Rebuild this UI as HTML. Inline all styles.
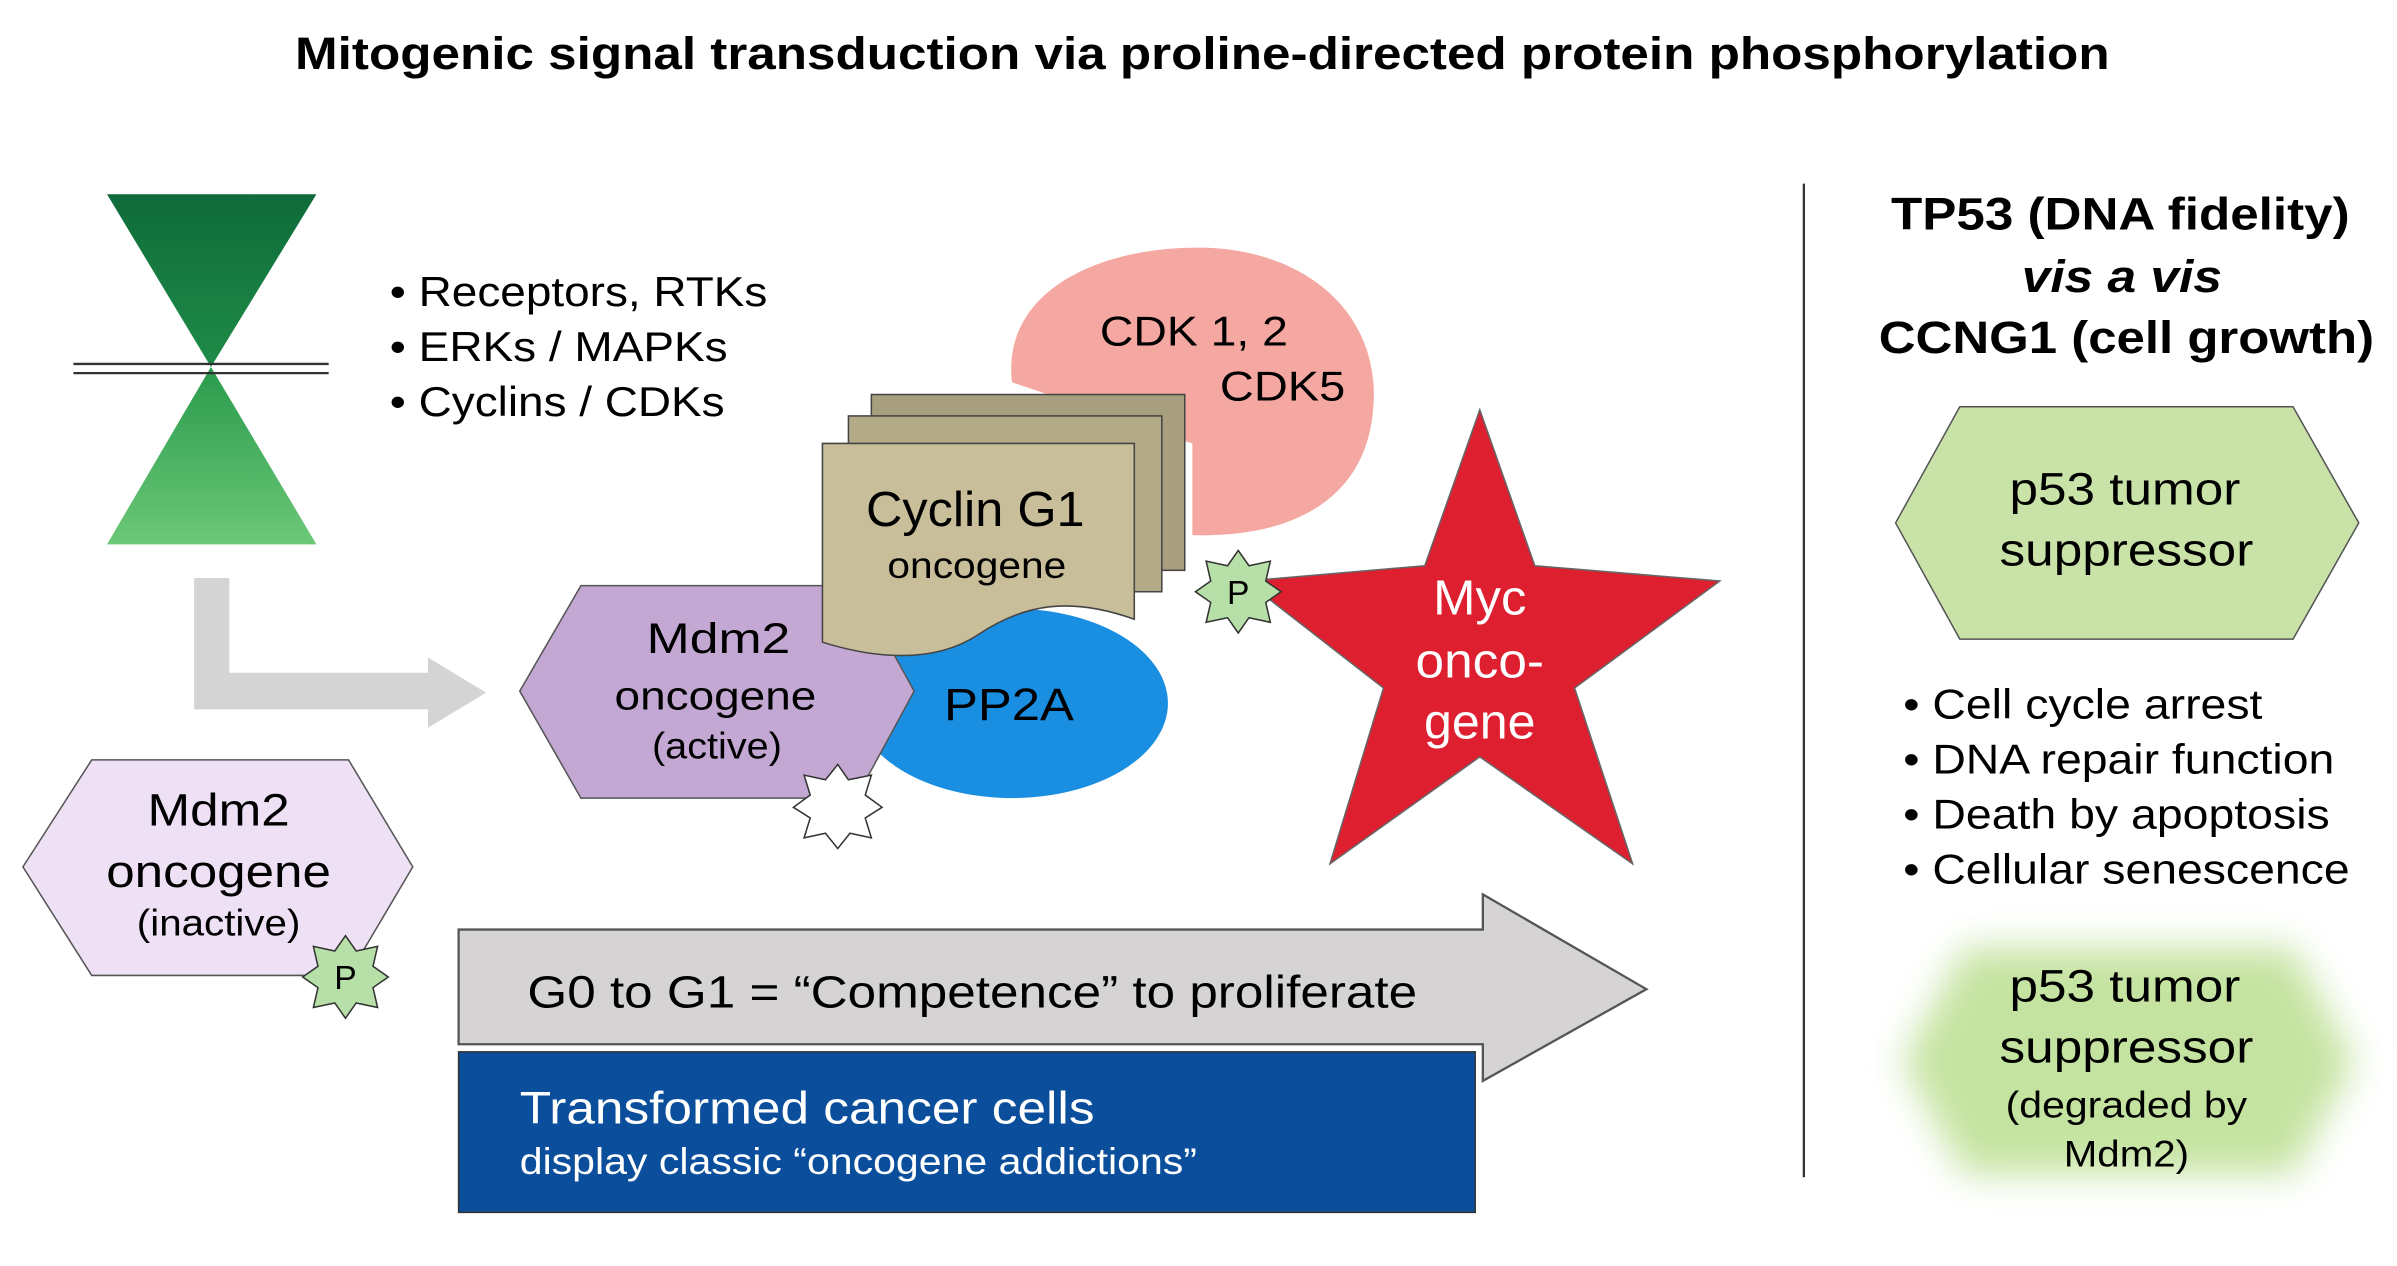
<!DOCTYPE html>
<html><head><meta charset="utf-8"><style>
html,body{margin:0;padding:0;background:#fff}
svg{display:block}
text{font-family:"Liberation Sans",Arial,sans-serif}
</style></head><body>
<svg width="2397" height="1266" viewBox="0 0 1568 828" xmlns="http://www.w3.org/2000/svg">
<defs>
<linearGradient id="g1" x1="0" y1="0" x2="0" y2="1"><stop offset="0" stop-color="#0f6b3a"/><stop offset="1" stop-color="#1f8c48"/></linearGradient>
<linearGradient id="g2" x1="0" y1="0" x2="0" y2="1"><stop offset="0" stop-color="#2a9a4c"/><stop offset="1" stop-color="#6cc878"/></linearGradient>
<filter id="blur" x="-20%" y="-20%" width="140%" height="140%"><feGaussianBlur stdDeviation="12"/></filter>
</defs>
<text x="193" y="45" font-size="30" font-weight="bold" textLength="1187" lengthAdjust="spacingAndGlyphs">Mitogenic signal transduction via proline-directed protein phosphorylation</text>

<polygon points="70,127 207,127 138,240" fill="url(#g1)"/>
<polygon points="138,240 70,356 207,356" fill="url(#g2)"/>
<line x1="48" y1="238" x2="215" y2="238" stroke="#333" stroke-width="1.5"/>
<line x1="48" y1="244" x2="215" y2="244" stroke="#333" stroke-width="1.5"/>

<g font-size="27">
<text x="255" y="200" textLength="247" lengthAdjust="spacingAndGlyphs">• Receptors, RTKs</text>
<text x="255" y="236" textLength="221" lengthAdjust="spacingAndGlyphs">• ERKs / MAPKs</text>
<text x="255" y="272" textLength="219" lengthAdjust="spacingAndGlyphs">• Cyclins / CDKs</text>
</g>

<path d="M127,378 H150 V440 H280 V430 L318,453 L280,476 V464 H127 Z" fill="#d4d4d4"/>

<path d="M662,250 C655,190 720,160 790,162 C860,165 905,210 898,270 C892,330 840,352 780,350 L780,290 L662,250 Z" fill="#f4a8a1"/>
<text x="781" y="226" font-size="27" text-anchor="middle" textLength="123" lengthAdjust="spacingAndGlyphs">CDK 1, 2</text>
<text x="839" y="262" font-size="27" text-anchor="middle" textLength="82" lengthAdjust="spacingAndGlyphs">CDK5</text>

<ellipse cx="662" cy="460" rx="102" ry="62" fill="#1a8ee0"/>
<text x="660" y="471" font-size="30" text-anchor="middle" textLength="85" lengthAdjust="spacingAndGlyphs">PP2A</text>

<polygon points="340,452 380,383 560,383 598,452 560,522 380,522" fill="#c4a8d4" stroke="#555" stroke-width="1"/>
<text x="470" y="427" font-size="28" text-anchor="middle" textLength="94" lengthAdjust="spacingAndGlyphs">Mdm2</text>
<text x="468" y="464" font-size="26" text-anchor="middle" textLength="132" lengthAdjust="spacingAndGlyphs">oncogene</text>
<text x="469" y="496" font-size="24" text-anchor="middle" textLength="85" lengthAdjust="spacingAndGlyphs">(active)</text>
<polygon points="548,500 555,510 570,507 566,520 577,528 566,535 570,548 556,545 548,555 540,545 526,548 530,535 519,528 530,520 526,507 540,510" fill="#fff" stroke="#333" stroke-width="1"/>

<rect x="570" y="258" width="205" height="115" fill="#a89f7e" stroke="#444" stroke-width="1"/>
<rect x="555" y="272" width="205" height="115" fill="#b3aa88" stroke="#444" stroke-width="1"/>
<path d="M538,290 H742 V405 C700,390 670,395 640,415 C610,435 570,430 538,420 Z" fill="#c8be99" stroke="#444" stroke-width="1"/>
<text x="638" y="344" font-size="32" text-anchor="middle" textLength="143" lengthAdjust="spacingAndGlyphs">Cyclin G1</text>
<text x="639" y="378" font-size="24" text-anchor="middle" textLength="117" lengthAdjust="spacingAndGlyphs">oncogene</text>

<polygon points="968,268 1004,370 1125,380 1030,450 1068,565 968,495 870,565 905,450 815,380 932,370" fill="#dd1f2f" stroke="#666" stroke-width="1"/>
<text x="968" y="402" font-size="32" fill="#fff" text-anchor="middle" textLength="61" lengthAdjust="spacingAndGlyphs">Myc</text>
<text x="968" y="443" font-size="32" fill="#fff" text-anchor="middle" textLength="84" lengthAdjust="spacingAndGlyphs">onco-</text>
<text x="968" y="483" font-size="32" fill="#fff" text-anchor="middle" textLength="73" lengthAdjust="spacingAndGlyphs">gene</text>

<polygon points="810,360 817,370 831,367 828,380 838,387 828,394 831,407 817,404 810,414 803,404 789,407 792,394 782,387 792,380 789,367 803,370" fill="#b6e0a8" stroke="#333" stroke-width="1"/>
<text x="810" y="395" font-size="22" text-anchor="middle">P</text>

<polygon points="15,567 60,497 228,497 270,567 228,638 60,638" fill="#eee1f6" stroke="#555" stroke-width="1"/>
<text x="143" y="540" font-size="30" text-anchor="middle" textLength="93" lengthAdjust="spacingAndGlyphs">Mdm2</text>
<text x="143" y="580" font-size="30" text-anchor="middle" textLength="147" lengthAdjust="spacingAndGlyphs">oncogene</text>
<text x="143" y="612" font-size="24" text-anchor="middle" textLength="107" lengthAdjust="spacingAndGlyphs">(inactive)</text>
<polygon points="226,612 233,622 247,619 244,632 254,639 244,646 247,659 233,656 226,666 219,656 205,659 208,646 198,639 208,632 205,619 219,622" fill="#b6e0a8" stroke="#333" stroke-width="1"/>
<text x="226" y="647" font-size="22" text-anchor="middle">P</text>

<path d="M300,608 H970 V585 L1077,647 L970,707 V683 H300 Z" fill="#d5d3d3" stroke="#555" stroke-width="1.5"/>
<text x="345" y="659" font-size="30" textLength="582" lengthAdjust="spacingAndGlyphs">G0 to G1 = “Competence” to proliferate</text>
<rect x="300" y="688" width="665" height="105" fill="#0b4f9c" stroke="#333" stroke-width="1"/>
<text x="340" y="735" font-size="30" fill="#fff" textLength="376" lengthAdjust="spacingAndGlyphs">Transformed cancer cells</text>
<text x="340" y="768" font-size="24" fill="#fff" textLength="443" lengthAdjust="spacingAndGlyphs">display classic “oncogene addictions”</text>

<line x1="1180" y1="120" x2="1180" y2="770" stroke="#333" stroke-width="1.5"/>
<text x="1387" y="150" font-size="30" font-weight="bold" text-anchor="middle" textLength="300" lengthAdjust="spacingAndGlyphs">TP53 (DNA fidelity)</text>
<text x="1388" y="191" font-size="30" font-weight="bold" font-style="italic" text-anchor="middle" textLength="131" lengthAdjust="spacingAndGlyphs">vis a vis</text>
<text x="1391" y="231" font-size="30" font-weight="bold" text-anchor="middle" textLength="324" lengthAdjust="spacingAndGlyphs">CCNG1 (cell growth)</text>

<polygon points="1240,342 1282,266 1500,266 1543,342 1500,418 1282,418" fill="#c9e2a8" stroke="#555" stroke-width="1"/>
<text x="1390" y="330" font-size="30" text-anchor="middle" textLength="151" lengthAdjust="spacingAndGlyphs">p53 tumor</text>
<text x="1391" y="370" font-size="30" text-anchor="middle" textLength="166" lengthAdjust="spacingAndGlyphs">suppressor</text>

<g font-size="27">
<text x="1245" y="470" textLength="235" lengthAdjust="spacingAndGlyphs">• Cell cycle arrest</text>
<text x="1245" y="506" textLength="282" lengthAdjust="spacingAndGlyphs">• DNA repair function</text>
<text x="1245" y="542" textLength="279" lengthAdjust="spacingAndGlyphs">• Death by apoptosis</text>
<text x="1245" y="578" textLength="292" lengthAdjust="spacingAndGlyphs">• Cellular senescence</text>
</g>

<polygon points="1245,695 1285,620 1500,620 1540,695 1500,768 1285,768" fill="#c5e3a0" filter="url(#blur)"/>
<text x="1390" y="655" font-size="30" text-anchor="middle" textLength="151" lengthAdjust="spacingAndGlyphs">p53 tumor</text>
<text x="1391" y="695" font-size="30" text-anchor="middle" textLength="166" lengthAdjust="spacingAndGlyphs">suppressor</text>
<text x="1391" y="731" font-size="24" text-anchor="middle" textLength="158" lengthAdjust="spacingAndGlyphs">(degraded by</text>
<text x="1391" y="763" font-size="24" text-anchor="middle" textLength="82" lengthAdjust="spacingAndGlyphs">Mdm2)</text>
</svg>
</body></html>
